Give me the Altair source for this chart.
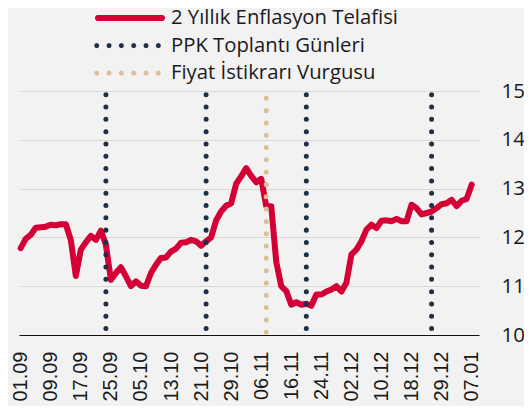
import json
import math
import altair as alt
import pandas as pd

# ---- data -------------------------------------------------------------
dates = [
    "01.09", "02.09", "03.09", "04.09", "07.09", "08.09", "09.09", "10.09", "11.09", "14.09",
    "15.09", "16.09", "17.09", "18.09", "21.09", "22.09", "23.09", "24.09", "25.09", "28.09",
    "29.09", "30.09", "01.10", "02.10", "05.10", "06.10", "07.10", "08.10", "09.10", "12.10",
    "13.10", "14.10", "15.10", "16.10", "19.10", "20.10", "21.10", "22.10", "23.10", "26.10",
    "27.10", "28.10", "29.10", "30.10", "02.11", "03.11", "04.11", "05.11", "06.11", "09.11",
    "10.11", "11.11", "12.11", "13.11", "16.11", "17.11", "18.11", "19.11", "20.11", "23.11",
    "24.11", "25.11", "26.11", "27.11", "30.11", "01.12", "02.12", "03.12", "04.12", "07.12",
    "08.12", "09.12", "10.12", "11.12", "14.12", "15.12", "16.12", "17.12", "18.12", "21.12",
    "22.12", "23.12", "24.12", "28.12", "29.12", "30.12", "31.12", "04.01", "05.01", "06.01",
    "07.01",
]
values = [
    11.78, 11.97, 12.05, 12.20, 12.21, 12.22, 12.26, 12.25, 12.27, 12.27,
    11.95, 11.21, 11.75, 11.90, 12.03, 11.95, 12.14, 11.85, 11.13, 11.27,
    11.39, 11.20, 11.00, 11.10, 11.01, 11.00, 11.27, 11.44, 11.58, 11.59,
    11.71, 11.77, 11.89, 11.90, 11.95, 11.92, 11.83, 11.92, 12.00, 12.35,
    12.53, 12.65, 12.70, 13.10, 13.25, 13.42, 13.26, 13.13, 13.20, 12.64,
    12.64, 11.50, 11.00, 10.90, 10.62, 10.67, 10.62, 10.64, 10.60, 10.83,
    10.83, 10.89, 10.93, 11.00, 10.89, 11.07, 11.65, 11.75, 11.92, 12.16,
    12.26, 12.19, 12.34, 12.35, 12.33, 12.38, 12.33, 12.33, 12.67, 12.60,
    12.47, 12.50, 12.53, 12.60, 12.68, 12.70, 12.77, 12.64, 12.75, 12.79,
    13.08,
]
series_names = ["2 Yıllık Enflasyon Telafisi", "PPK Toplantı Günleri", "Fiyat İstikrarı Vurgusu"]
series_colors = ["#d40035", "#1d3047", "#d9c09a"]
ppk_dates = ["24.09", "22.10", "19.11", "24.12"]
emphasis_dates = ["09.11"]
tick_labels = ["01.09", "09.09", "17.09", "25.09", "05.10", "13.10", "21.10", "29.10",
               "06.11", "16.11", "24.11", "02.12", "10.12", "18.12", "29.12", "07.01"]
y_ticks = [10, 11, 12, 13, 14, 15]

RED, NAVY, TAN = series_colors
TEXT = "#1a1a1a"

# ---- legend symbol paths (unit square, no arcs) -----------------------
def capsule(a, h, n=6):
    pts = [(-a, -h), (a, -h)]
    for k in range(1, n):
        t = -math.pi / 2 + math.pi * k / n
        pts.append((a + h * math.cos(t), h * math.sin(t)))
    pts += [(a, h), (-a, h)]
    for k in range(1, n):
        t = math.pi / 2 + math.pi * k / n
        pts.append((-a + h * math.cos(t), h * math.sin(t)))
    return "M" + "L".join(f"{x:.4f},{y:.4f}" for x, y in pts) + "Z"

def dots(xs, r, n=8):
    out = ""
    for cx in xs:
        pts = [(cx + r * math.cos(2 * math.pi * k / n), r * math.sin(2 * math.pi * k / n)) for k in range(n)]
        out += "M" + "L".join(f"{x:.4f},{y:.4f}" for x, y in pts) + "Z"
    return out

dot_x = [-0.95 + 0.352 * k for k in range(6)]
symbol_paths = [capsule(0.914, 0.03), dots(dot_x, 0.012), dots(dot_x, 0.012)]

# ---- frames -----------------------------------------------------------
df = pd.DataFrame({"idx": list(range(len(dates))), "date": dates, "value": values})
ppk_df = pd.DataFrame({"idx": [dates.index(d) for d in ppk_dates], "date": ppk_dates})
emph_df = pd.DataFrame({"idx": [dates.index(d) for d in emphasis_dates], "date": emphasis_dates})
legend_df = pd.DataFrame({"series": series_names})

x_scale = alt.Scale(domain=[-0.34, 91.46], nice=False, zero=False)
y_scale = alt.Scale(domain=[10, 15], nice=False, zero=False)

x_axis = alt.Axis(
    values=[dates.index(t) for t in tick_labels],
    labelExpr=json.dumps(dates) + "[datum.value]",
    labelAngle=-90, ticks=False, tickSize=0, grid=False,
    domainColor="#111111", domainWidth=1.2, labelPadding=16, title=None,
    labelFont="Liberation Sans", labelFontSize=20, labelColor=TEXT,
    labelOverlap=False,
)
y_axis = alt.Axis(
    orient="right", values=y_ticks, grid=True, gridColor="#d9d9d9", gridWidth=1.2,
    domain=False, ticks=False, labelPadding=22, title=None,
    labelFont="Open Sans", labelFontSize=20.5, labelColor=TEXT,
)

line = alt.Chart(df).mark_line(
    color=RED, strokeWidth=6, strokeJoin="round", strokeCap="round"
).encode(
    x=alt.X("idx:Q", scale=x_scale, axis=x_axis),
    y=alt.Y("value:Q", scale=y_scale, axis=y_axis),
)

ppk = alt.Chart(ppk_df).mark_rule(
    color=NAVY, strokeWidth=5, strokeCap="round", strokeDash=[0.01, 12.3], strokeDashOffset=8.6
).encode(
    x=alt.X("idx:Q", scale=x_scale, axis=x_axis),
    y=alt.Y(datum=15, scale=y_scale, axis=y_axis),
    y2=alt.Y2(datum=10),
)

emph = alt.Chart(emph_df).mark_rule(
    color=TAN, strokeWidth=5, strokeCap="round", strokeDash=[0.01, 12.3], strokeDashOffset=5.0
).encode(
    x=alt.X("idx:Q", scale=x_scale, axis=x_axis),
    y=alt.Y(datum=15, scale=y_scale, axis=y_axis),
    y2=alt.Y2(datum=10),
)

leg_kwargs = dict(
    title=None, orient="none", legendX=74, legendY=-86.0, direction="vertical",
    symbolSize=4900, symbolStrokeWidth=4, symbolOpacity=1, clipHeight=26, rowPadding=1.6,
    labelOffset=4, labelFont="Open Sans", labelFontSize=20.3, labelColor=TEXT,
    labelLimit=400, padding=0,
)

legend_layer = alt.Chart(legend_df).transform_filter("false").mark_point(
    filled=False, strokeWidth=4, opacity=1
).encode(
    color=alt.Color("series:N", scale=alt.Scale(domain=series_names, range=series_colors),
                    legend=alt.Legend(**leg_kwargs)),
    shape=alt.Shape("series:N", scale=alt.Scale(domain=series_names, range=symbol_paths),
                    legend=alt.Legend(**leg_kwargs)),
)

chart = alt.layer(line, ppk, emph, legend_layer).properties(
    width=460, height=244,
    autosize=alt.AutoSizeParams(type="none"),
    padding={"left": 11, "top": 83, "right": 45, "bottom": 71},
    background="#f2f2f2",
).configure_view(stroke=None)

chart.save("out.html", embed_options={"renderer": "svg", "actions": False})
